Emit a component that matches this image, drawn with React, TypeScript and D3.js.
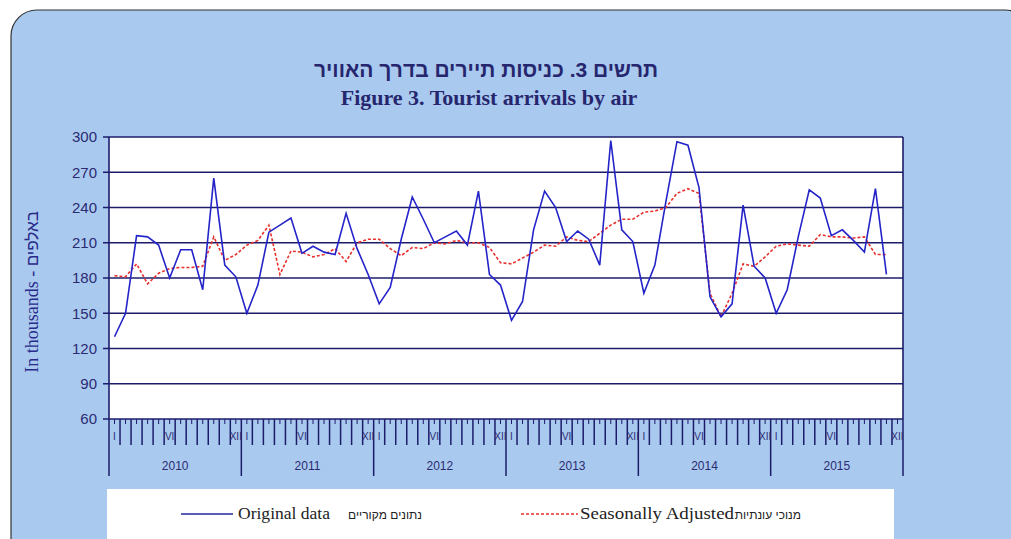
import React from "react";
import * as d3 from "d3";

const years = ["2010", "2011", "2012", "2013", "2014", "2015"];
const yTicks = [60, 90, 120, 150, 180, 210, 240, 270, 300];
const monthLabels: [number, string][] = [[0, "I"], [5, "VI"], [11, "XII"]];

const original = [
  130, 150, 216, 215, 208, 180, 204, 204, 170, 265, 191, 181,
  150, 174, 219, 225, 231, 201, 207, 202, 200, 235, 205, 183,
  158, 172, 213, 249, 230, 210, 215, 220, 208, 254, 183, 174,
  144, 160, 221, 254, 240, 211, 220, 213, 191, 297, 221, 211,
  167, 191, 245, 296, 293, 257, 164, 147, 158, 242, 190, 180,
  150, 170, 215, 255, 248, 216, 221, 212, 202, 256, 183,
];

const seasonal = [
  182, 181, 192, 175, 184, 188, 189, 189, 190, 215, 195, 200,
  208, 212, 225, 183, 203, 202, 198, 200, 205, 194, 210, 213,
  213, 205, 199, 206, 205, 210, 209, 212, 210, 210, 206, 193,
  192, 197, 202, 208, 207, 215, 212, 211, 218, 225, 230, 230,
  236, 237, 240, 252, 256, 252, 167, 147, 167, 192, 190, 198,
  207, 209, 208, 207, 217, 215, 215, 214, 215, 200, 200,
];

const NAVY = "#1c1c6a";
const TXT = "#2b2b72";

export default function App() {
  const W = 1011, H = 539;
  const L = 109, R = 903, T = 137, B = 419;
  const nMonths = years.length * 12;
  const x = d3.scaleLinear().domain([0, nMonths]).range([L, R]);
  const y = d3.scaleLinear().domain([60, 300]).range([B, T]);
  const line = d3.line<number>().x((_, i) => x(i + 0.5)).y((d) => y(d));

  const months = d3.range(nMonths + 1);

  return (
    <svg width={W} height={H} style={{ position: "absolute", left: 0, top: 0 }}>
      <rect x={0} y={0} width={W} height={H} fill="#ffffff" />
      <rect x={11} y={10} width={1020} height={560} rx={26} fill="#a9c9ef" stroke="#333" strokeWidth={1.2} />
      {/* titles */}
      <text x={486} y={77} textAnchor="middle" fontFamily="Liberation Sans, Arial" fontWeight="bold" fontSize={21} fill="#26266e" direction="rtl">
        תרשים 3. כניסות תיירים בדרך האוויר
      </text>
      <text x={489} y={105} textAnchor="middle" fontFamily="Liberation Serif, Times New Roman" fontWeight="bold" fontSize={22} fill="#26266e">
        Figure 3. Tourist arrivals by air
      </text>
      {/* plot background */}
      <rect x={L} y={T} width={R - L} height={B - T} fill="#ffffff" />
      {/* gridlines */}
      {yTicks.map((v) => (
        <g key={v}>
          <line x1={L - 6} x2={R} y1={y(v)} y2={y(v)} stroke={NAVY} strokeWidth={1.6} />
          <text x={97} y={y(v)} dy="0.36em" textAnchor="end" fontFamily="Liberation Sans, Arial" fontSize={15} fill={TXT}>
            {v}
          </text>
        </g>
      ))}
      <line x1={L} x2={L} y1={T} y2={B} stroke={NAVY} strokeWidth={1.6} />
      <line x1={R} x2={R} y1={T} y2={B} stroke={NAVY} strokeWidth={1.6} />
      {/* x ticks */}
      {months.map((m) => (
        <line key={"b" + m} x1={x(m)} x2={x(m)} y1={B} y2={m % 12 === 0 ? 476 : 445} stroke={NAVY} strokeWidth={1.5} />
      ))}
      {months.slice(0, nMonths).map((m) => (
        <line key={"c" + m} x1={x(m + 0.5)} x2={x(m + 0.5)} y1={B} y2={424} stroke={NAVY} strokeWidth={1} />
      ))}
      {years.map((yr, yi) =>
        monthLabels.map(([m, lab]) => (
          <text key={yr + lab} x={x(yi * 12 + m + 0.5)} y={440} textAnchor="middle" fontFamily="Liberation Sans, Arial" fontSize={10} fill={TXT}>
            {lab}
          </text>
        ))
      )}
      {years.map((yr, yi) => (
        <text key={yr} x={x(yi * 12 + 6)} y={470} textAnchor="middle" fontFamily="Liberation Sans, Arial" fontSize={12} fill={TXT}>
          {yr}
        </text>
      ))}
      {/* y title */}
      <text transform="translate(38,292) rotate(-90)" textAnchor="middle" fontFamily="Liberation Serif, Times New Roman" fontSize={18} fill="#2a2a8a" direction="ltr">
        In thousands - <tspan fontFamily="Liberation Sans, Arial" fontSize={17}>באלפים</tspan>
      </text>
      {/* series */}
      <path d={line(seasonal) || ""} fill="none" stroke="#e8302c" strokeWidth={1.6} strokeDasharray="3,2" />
      <path d={line(original) || ""} fill="none" stroke="#2424c8" strokeWidth={1.6} />
      {/* legend */}
      <rect x={107} y={489} width={787} height={60} fill="#ffffff" />
      <line x1={181} x2={233} y1={514} y2={514} stroke="#2424a0" strokeWidth={1.6} />
      <text x={238} y={519} fontFamily="Liberation Serif, Times New Roman" fontSize={17} fill="#222" textLength={92} lengthAdjust="spacingAndGlyphs">
        Original data
      </text>
      <text x={422} y={519} textAnchor="end" fontFamily="Liberation Sans, Arial" fontSize={12} fill="#222">
        נתונים מקוריים
      </text>
      <line x1={521} x2={578} y1={514} y2={514} stroke="#e8302c" strokeWidth={1.4} strokeDasharray="3,2" />
      <text x={580} y={519} fontFamily="Liberation Serif, Times New Roman" fontSize={17} fill="#222" textLength={154} lengthAdjust="spacingAndGlyphs">
        Seasonally Adjusted
      </text>
      <text x={801} y={519} textAnchor="end" fontFamily="Liberation Sans, Arial" fontSize={12} fill="#222">
        מנוכי עונתיות
      </text>
    </svg>
  );
}
